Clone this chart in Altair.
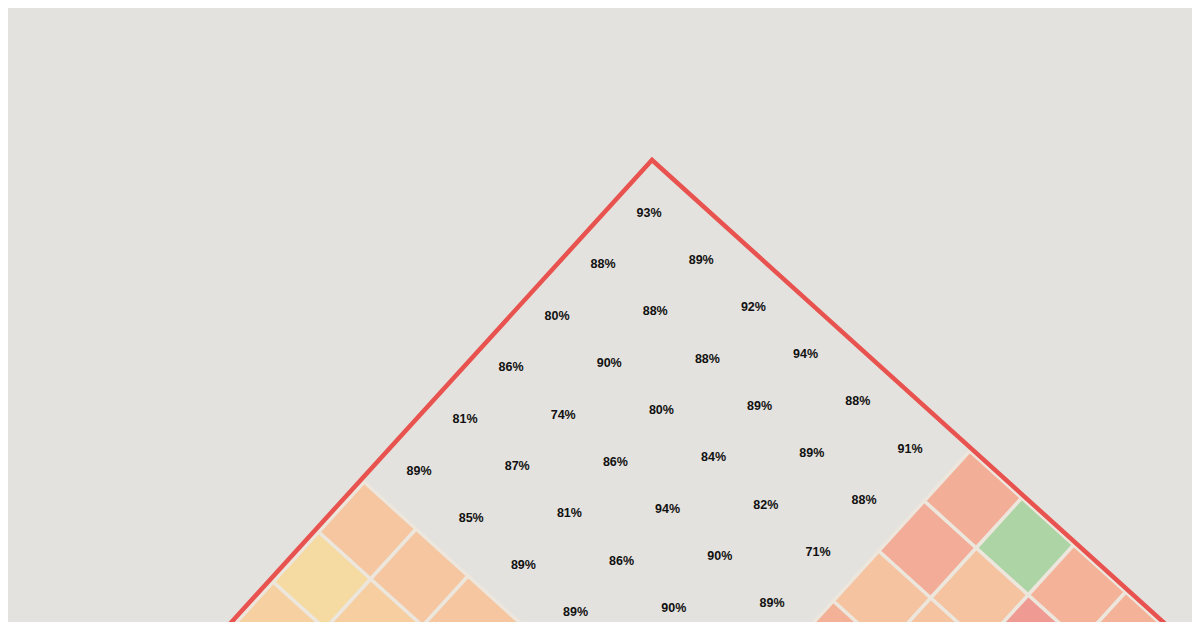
import altair as alt
import pandas as pd

# ---- data -------------------------------------------------------------
# label block: row index i (down-right diagonal), column index j (down-left diagonal)
label_rows = [
    [93, 88, 80, 86, 81, 89],
    [89, 88, 90, 74, 87, 85],
    [92, 88, 80, 86, 81, 89],
    [94, 89, 84, 94, 86, 89],
    [88, 89, 82, 90, 90],
    [91, 88, 71, 89],
]

# coloured cells (visible part)
cell_i = [6, 7, 8, 9, 6, 7, 8, 6, 7, 6, 0, 1, 2, 3, 0, 1, 2, 0, 1]
cell_j = [0, 0, 0, 0, 1, 1, 1, 2, 2, 3, 6, 6, 6, 6, 7, 7, 7, 8, 8]
cell_v = [70, 95, 72, 72, 69, 78, 60, 78, 78, 71, 79, 79, 79, 86, 87, 82, 80, 83, 80]

# outline of the triangle, in grid units
outline_k = [0, 1, 2]
outline_i = [0, 0, 10]
outline_j = [10, 0, 0]

color_domain = [60, 70, 79, 87, 95]
color_range = ["#f09a94", "#f3ae98", "#f5c6a0", "#f5dba2", "#acd4a4"]

labels = pd.DataFrame(
    [{"i": i, "j": j, "v": v} for i, row in enumerate(label_rows) for j, v in enumerate(row)]
)
cells = pd.DataFrame({"i": cell_i, "j": cell_j, "v": cell_v})
outline = pd.DataFrame({"k": outline_k, "i": outline_i, "j": outline_j})

# ---- layout (grid geometry) ------------------------------------------
AX, AY = 52.0, 47.0      # step along i
BX, BY = -45.5, 50.0     # step along j

# scales use page coordinates (chart sits at the 8px page margin)
xs = alt.Scale(domain=[8, 1192], nice=False, zero=False)
ys = alt.Scale(domain=[8, 622], nice=False, zero=False, reverse=True)
X = alt.X("px:Q", scale=xs, axis=None)
Y = alt.Y("py:Q", scale=ys, axis=None)

cell_shape = "M -0.0667 -0.9949 L 1 -0.0308 L 0.0667 0.9949 L -1 0.0308 Z"

cell_layer = (
    alt.Chart(cells)
    .transform_calculate(
        px=f"(datum.j >= 6 ? 637.1 : 657.7) + (datum.i + 0.5) * {AX} + (datum.j + 0.5) * ({BX})",
        py=f"(datum.j >= 6 ? 182.0 : 169.0) + (datum.i + 0.5) * {AY} + (datum.j + 0.5) * {BY}",
    )
    .mark_point(shape=cell_shape, size=9506, filled=True, opacity=1,
                stroke="#ece6dd", strokeWidth=3.5, clip=True)
    .encode(
        x=X, y=Y,
        fill=alt.Fill("v:Q", scale=alt.Scale(domain=color_domain, range=color_range),
                      legend=None),
    )
)

label_layer = (
    alt.Chart(labels)
    .transform_calculate(
        px="649 + datum.i * 52.2 - datum.j * 46",
        py="212.5 + datum.i * 47.2 + datum.j * 51.6",
        txt="datum.v + '%'",
    )
    .mark_text(font="Liberation Sans", fontWeight="bold", fontSize=12.5,
               color="#111111", align="center", baseline="middle", clip=True)
    .encode(x=X, y=Y, text="txt:N")
)

outline_layer = (
    alt.Chart(outline)
    .transform_calculate(
        px=f"652 + datum.i * {AX} + datum.j * ({BX})",
        py=f"160 + datum.i * {AY} + datum.j * {BY}",
    )
    .mark_line(color="#e8524f", strokeWidth=4.5, strokeJoin="miter", clip=True)
    .encode(x=X, y=Y, order="k:Q")
)

chart = (
    alt.layer(cell_layer, outline_layer, label_layer)
    .properties(width=1184, height=614, background="#e4e2de", padding=0,
                autosize=alt.AutoSizeParams(type="none"))
    .configure_view(stroke=None)
)

chart.save("out.html", embed_options={"renderer": "svg", "actions": False})
